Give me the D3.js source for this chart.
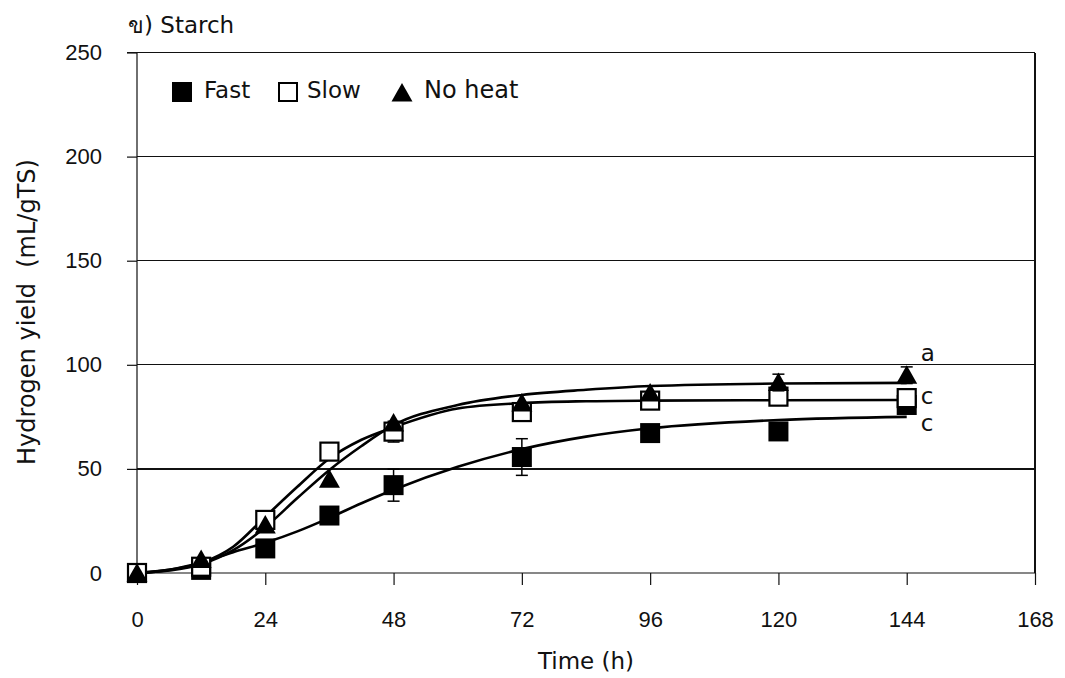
<!DOCTYPE html>
<html>
<head>
<meta charset="utf-8">
<script src="https://cdn.jsdelivr.net/npm/d3@7"></script>
<style>
  html, body { margin: 0; padding: 0; background: #fff; }
  svg { display: block; font-family: "DejaVu Sans", sans-serif; }
  .tick-label { font-size: 22px; fill: #111; }
  .title { font-size: 23px; fill: #111; white-space: pre; }
</style>
</head>
<body>
<svg id="chart" width="1065" height="678"></svg>
<script>
// measured points (h vs mL/gTS)
const hours = [0, 12, 24, 36, 48, 72, 96, 120, 144];
const fastY = [0, 1.5, 11.8, 27.6, 42.2, 55.7, 67.2, 68, 80.7];
const slowY = [0, 3, 25.5, 58.3, 67.9, 77.3, 82.8, 84.7, 84];
const noHeatY = [0, 6.5, 23, 45, 72, 81.6, 86.5, 91.5, 95];
const fastErr = [0, 0, 0, 0, 7.7, 8.8, 0, 0, 0];
const slowErr = [0, 0, 0, 0, 5, 0, 0, 0, 0];
const noHeatErr = [0, 0, 0, 0, 0, 0, 0, 4, 4];

// fitted curves
const fitHours = [0, 6, 12, 18, 24, 30, 36, 42, 48, 60, 72, 84, 96, 120, 144];
const fastFit = [0, 1.5, 5, 10, 14.5, 20, 26.5, 33.5, 40, 51, 59.5, 65.5, 69.5, 73.5, 75];
const slowFit = [0, 1.5, 4.8, 12.6, 27, 41.4, 55, 64, 70, 79, 81.6, 82.5, 82.8, 83, 83.1];
const noHeatFit = [0, 1.2, 4.2, 11, 22, 36, 49.5, 61, 71, 80.7, 85.5, 88, 89.8, 91, 91.3];

const xTicks = [0, 24, 48, 72, 96, 120, 144, 168];
const yTicks = [0, 50, 100, 150, 200, 250];
const letters = [{ t: "a", y: 105.5 }, { t: "c", y: 85 }, { t: "c", y: 72 }];

const svg = d3.select("#chart");
const x = d3.scaleLinear().domain([0, 168]).range([137, 1035]);
const y = d3.scaleLinear().domain([0, 250]).range([573, 52.5]);

// gridlines + frame
svg.append("g").selectAll("line").data(yTicks.filter(d => d > 0)).join("line")
  .attr("x1", x(0)).attr("x2", x(168)).attr("y1", d => y(d)).attr("y2", d => y(d))
  .attr("stroke", "#111").attr("stroke-width", 1.2).attr("shape-rendering", "crispEdges");
svg.append("line").attr("x1", x(168)).attr("x2", x(168)).attr("y1", y(250)).attr("y2", y(0))
  .attr("stroke", "#111").attr("stroke-width", 1.2).attr("shape-rendering", "crispEdges");

const yAxis = svg.append("g").attr("transform", `translate(${x(0)},0)`)
  .call(d3.axisLeft(y).tickValues(yTicks).tickSize(10).tickPadding(25));
const xAxis = svg.append("g").attr("transform", `translate(0,${y(0)})`)
  .call(d3.axisBottom(x).tickValues(xTicks).tickSize(12).tickSizeOuter(0).tickPadding(26));
[yAxis, xAxis].forEach(a => {
  a.select(".domain").attr("stroke", "#111").attr("stroke-width", 1.2);
  a.selectAll(".tick line").attr("stroke", "#111").attr("stroke-width", 1.2);
  a.selectAll("text").attr("class", "tick-label").attr("font-family", null).attr("font-size", null);
});
yAxis.select(".domain").attr("d", `M-10,${y(0)}H0V${y(250)}H-10`);
xAxis.select(".domain").attr("d", `M${x(0) - 10},0H${x(168)}`);

// fitted curves
const line = d3.line().x(d => x(d[0])).y(d => y(d[1])).curve(d3.curveMonotoneX);
[fastFit, slowFit, noHeatFit].forEach(s => {
  svg.append("path").datum(fitHours.map((h, i) => [h, s[i]]))
    .attr("d", line).attr("fill", "none").attr("stroke", "#000").attr("stroke-width", 2.6);
});

// error bars + markers
function errBars(vals, errs) {
  const pts = hours.map((h, i) => ({ h, v: vals[i], e: errs[i] })).filter(d => d.e > 0);
  const g = svg.append("g").attr("stroke", "#000").attr("stroke-width", 1.5);
  g.selectAll(".v").data(pts).join("line").attr("x1", d => x(d.h)).attr("x2", d => x(d.h))
    .attr("y1", d => y(d.v - d.e)).attr("y2", d => y(d.v + d.e));
  g.selectAll(".t").data(pts).join("line").attr("x1", d => x(d.h) - 6).attr("x2", d => x(d.h) + 6)
    .attr("y1", d => y(d.v + d.e)).attr("y2", d => y(d.v + d.e));
  g.selectAll(".b").data(pts).join("line").attr("x1", d => x(d.h) - 6).attr("x2", d => x(d.h) + 6)
    .attr("y1", d => y(d.v - d.e)).attr("y2", d => y(d.v - d.e));
}
const tri = "M0,-10L10.5,8.5L-10.5,8.5Z";
errBars(fastY, fastErr);
svg.append("g").selectAll("rect").data(hours).join("rect")
  .attr("x", (h) => x(h) - 10).attr("y", (h, i) => y(fastY[i]) - 10).attr("width", 20).attr("height", 20).attr("fill", "#000");
errBars(slowY, slowErr);
svg.append("g").selectAll("rect").data(hours).join("rect")
  .attr("x", (h) => x(h) - 9).attr("y", (h, i) => y(slowY[i]) - 9).attr("width", 18).attr("height", 18)
  .attr("fill", "#fff").attr("stroke", "#000").attr("stroke-width", 2.2);
errBars(noHeatY, noHeatErr);
svg.append("g").selectAll("path").data(hours).join("path")
  .attr("transform", (h, i) => `translate(${x(h)},${y(noHeatY[i])})`).attr("d", tri).attr("fill", "#000");

// significance letters
svg.append("g").selectAll("text").data(letters).join("text").attr("class", "title")
  .attr("x", x(144) + 14).attr("y", d => y(d.y)).attr("dy", "0.35em").text(d => d.t);

// legend
const lg = svg.append("g");
lg.append("rect").attr("x", 172).attr("y", 82).attr("width", 20).attr("height", 20).attr("fill", "#000");
lg.append("text").attr("class", "title").attr("x", 204).attr("y", 98).text("Fast");
lg.append("rect").attr("x", 279).attr("y", 83).attr("width", 18).attr("height", 18).attr("fill", "#fff").attr("stroke", "#000").attr("stroke-width", 2);
lg.append("text").attr("class", "title").attr("x", 307).attr("y", 98).text("Slow");
lg.append("path").attr("transform", "translate(402,93)").attr("d", tri).attr("fill", "#000");
lg.append("text").attr("class", "title").attr("x", 424).attr("y", 98).style("font-size", "24px").text("No heat");

// titles
svg.append("text").attr("class", "title").attr("x", 128).attr("y", 33).text("ข) Starch");
svg.append("text").attr("class", "title").attr("x", 586).attr("y", 669).attr("text-anchor", "middle").text("Time (h)");
svg.append("text").attr("class", "title").attr("transform", "translate(35,312) rotate(-90)")
  .attr("text-anchor", "middle").style("font-size", "24px").text("Hydrogen yield  (mL/gTS)");
</script>
</body>
</html>
